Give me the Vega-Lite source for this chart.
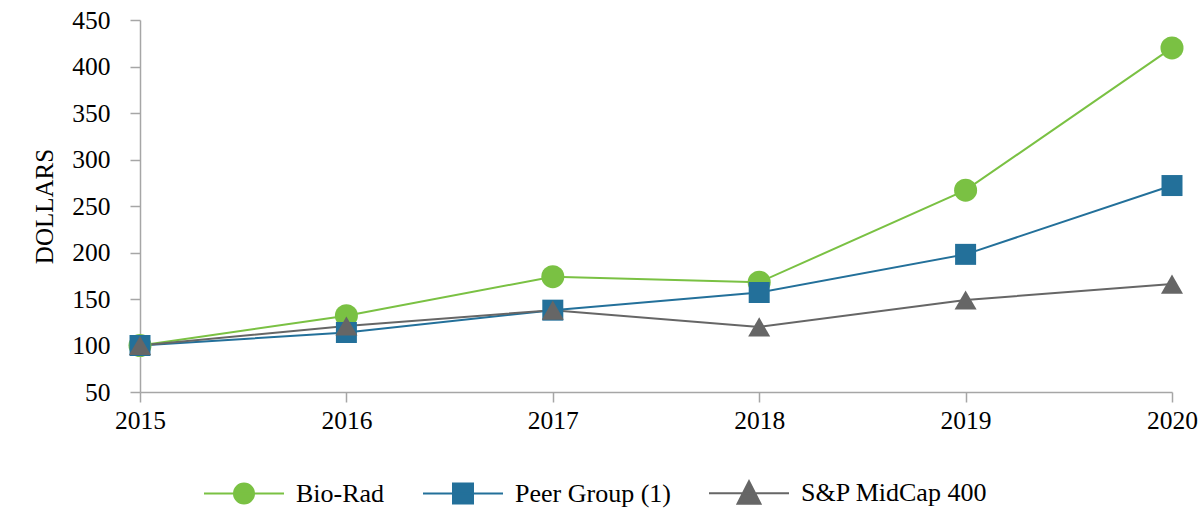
{
  "$schema": "https://vega.github.io/schema/vega-lite/v6.json",
  "width": 1032,
  "height": 372,
  "autosize": {"type": "none"},
  "padding": {"left": 140, "top": 20, "right": 28, "bottom": 140},
  "config": {
    "font": "Liberation Serif",
    "view": {"stroke": null},
    "axis": {"grid": false, "labelFont": "Liberation Serif", "titleFont": "Liberation Serif", "labelColor": "#000000", "titleColor": "#000000", "domainColor": "#a6a6a6", "tickColor": "#a6a6a6", "domainWidth": 1.5, "tickWidth": 1.5, "labelFontSize": 25.5, "titleFontSize": 25, "titleFontWeight": "normal", "tickSize": 10}
  },
  "data": {
    "values": [
      {"year": 2015, "series": "Bio-Rad", "value": 100},
      {"year": 2016, "series": "Bio-Rad", "value": 132},
      {"year": 2017, "series": "Bio-Rad", "value": 174},
      {"year": 2018, "series": "Bio-Rad", "value": 168},
      {"year": 2019, "series": "Bio-Rad", "value": 267},
      {"year": 2020, "series": "Bio-Rad", "value": 420},
      {"year": 2015, "series": "Peer Group (1)", "value": 100},
      {"year": 2016, "series": "Peer Group (1)", "value": 114},
      {"year": 2017, "series": "Peer Group (1)", "value": 138},
      {"year": 2018, "series": "Peer Group (1)", "value": 157},
      {"year": 2019, "series": "Peer Group (1)", "value": 198},
      {"year": 2020, "series": "Peer Group (1)", "value": 272},
      {"year": 2015, "series": "S&P MidCap 400", "value": 100},
      {"year": 2016, "series": "S&P MidCap 400", "value": 121},
      {"year": 2017, "series": "S&P MidCap 400", "value": 138},
      {"year": 2018, "series": "S&P MidCap 400", "value": 120},
      {"year": 2019, "series": "S&P MidCap 400", "value": 149},
      {"year": 2020, "series": "S&P MidCap 400", "value": 166}
    ]
  },
  "encoding": {
    "x": {
      "field": "year", "type": "quantitative",
      "scale": {"domain": [2015, 2020], "nice": false, "zero": false},
      "axis": {"title": null, "values": [2015, 2016, 2017, 2018, 2019, 2020], "format": "d", "labelPadding": 6, "labelFlush": false, "labelOverlap": false, "labelFont": "Liberation Serif", "labelFontSize": 25.5, "labelColor": "#000000"}
    },
    "y": {
      "field": "value", "type": "quantitative",
      "scale": {"domain": [50, 450], "nice": false, "zero": false},
      "axis": {"title": "DOLLARS", "values": [50, 100, 150, 200, 250, 300, 350, 400, 450], "labelPadding": 20, "titleX": -96, "titleY": 186, "titleAngle": -90, "titleAlign": "center", "titleBaseline": "middle", "labelFlush": false, "labelOverlap": false, "labelFont": "Liberation Serif", "labelFontSize": 25.5, "labelColor": "#000000", "titleFont": "Liberation Serif"}
    },
    "color": {
      "field": "series", "type": "nominal",
      "scale": {"domain": ["Bio-Rad", "Peer Group (1)", "S&P MidCap 400"], "range": ["#7ac143", "#23709a", "#666666"]},
      "legend": {
        "title": null,
        "orient": "none",
        "legendX": 61,
        "legendY": 460,
        "direction": "horizontal",
        "padding": 0,
        "columnPadding": 34,
        "labelOffset": 69,
        "symbolSize": 400,
        "symbolStrokeWidth": 2,
        "symbolOpacity": 1,
        "labelFont": "Liberation Serif",
        "labelFontSize": 26,
        "labelColor": "#000000",
        "labelLimit": 400,
        "encode": {
          "symbols": {
            "update": {
              "shape": {"signal": "datum.value === 'Bio-Rad' ? 'M-1,0H7M4,0A1,1 0 1,1 2,0A1,1 0 1,1 4,0Z' : datum.value === 'Peer Group (1)' ? 'M-1,0H7M2,-1H4V1H2Z' : 'M-1,0H7M3,-1.2L4.15,1.05L1.85,1.05Z'"},
              "fill": {"scale": "color", "field": "value"},
              "stroke": {"scale": "color", "field": "value"},
              "strokeWidth": {"value": 2},
              "opacity": {"value": 1},
              "size": {"value": 400}
            }
          }
        }
      }
    }
  },
  "layer": [
    {
      "mark": {"type": "line", "strokeWidth": 2},
      "encoding": {"detail": {"field": "series"}}
    },
    {
      "mark": {"type": "point", "filled": true, "opacity": 1},
      "encoding": {
        "shape": {"field": "series", "type": "nominal", "scale": {"domain": ["S&P MidCap 400", "Bio-Rad", "Peer Group (1)"], "range": ["triangle-up", "circle", "square"]}, "legend": null},
        "size": {"field": "series", "type": "nominal", "scale": {"domain": ["Peer Group (1)", "S&P MidCap 400", "Bio-Rad"], "range": [441, 530, 400]}, "legend": null}
      }
    }
  ]
}
